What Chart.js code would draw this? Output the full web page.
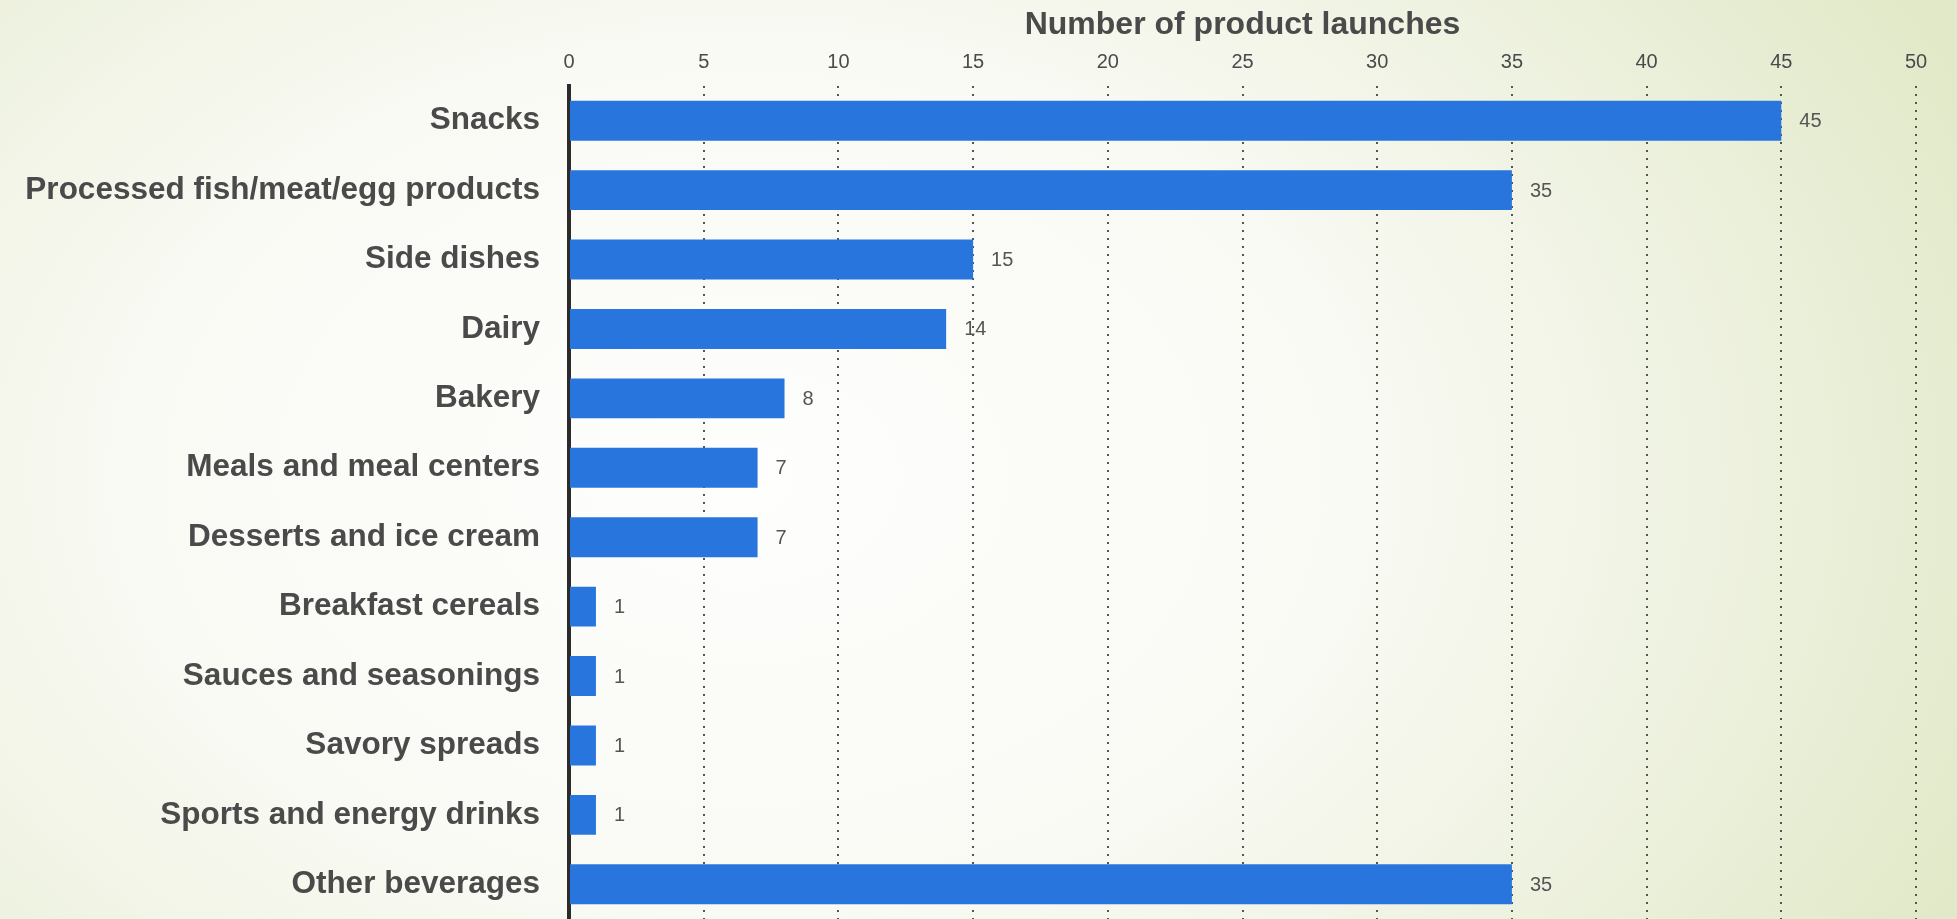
<!DOCTYPE html>
<html>
<head>
<meta charset="utf-8">
<script src="https://cdn.jsdelivr.net/npm/chart.js@4/dist/chart.umd.min.js"></script>
<style>
  html, body { margin: 0; padding: 0; }
  body {
    width: 1957px; height: 919px; overflow: hidden;
    background: radial-gradient(ellipse 1350px 950px at 38% 52%, #fefefd 0%, #f9faf4 45%, #eef2e0 72%, #e1e9c8 100%);
  }
  canvas { display: block; }
</style>
</head>
<body>
<canvas id="chart" width="1957" height="919"></canvas>
<script>
// Chart data
const categories = [
    'Snacks',
    'Processed fish/meat/egg products',
    'Side dishes',
    'Dairy',
    'Bakery',
    'Meals and meal centers',
    'Desserts and ice cream',
    'Breakfast cereals',
    'Sauces and seasonings',
    'Savory spreads',
    'Sports and energy drinks',
    'Other beverages'
];
const launches = [45, 35, 15, 14, 8, 7, 7, 1, 1, 1, 1, 35];
const axisTitle = 'Number of product launches';

const textColor = '#4a4a4a';
const fontFamily = 'Arial, "Liberation Sans", sans-serif';

// draws the number next to the end of each bar
const valueLabels = {
    id: 'valueLabels',
    afterDatasetsDraw(chart) {
        const ctx = chart.ctx;
        const meta = chart.getDatasetMeta(0);
        ctx.save();
        ctx.font = '20px ' + fontFamily;
        ctx.fillStyle = '#555555';
        ctx.textAlign = 'left';
        ctx.textBaseline = 'middle';
        meta.data.forEach((bar, i) => {
            ctx.fillText(String(launches[i]), bar.x + 18, bar.y + 1);
        });
        ctx.restore();
    }
};

const ctx = document.getElementById('chart').getContext('2d');
const chart = new Chart(ctx, {
    type: 'bar',
    data: {
        labels: categories,
        datasets: [{
            label: axisTitle,
            data: launches,
            backgroundColor: '#2876dd',
            borderWidth: 0,
            categoryPercentage: 0.8,
            barPercentage: 0.72
        }]
    },
    options: {
        indexAxis: 'y',
        responsive: false,
        animation: false,
        layout: { padding: { left: 0, right: 41, top: 0, bottom: 0 } },
        plugins: {
            legend: { display: false },
            tooltip: { enabled: false }
        },
        scales: {
            x: {
                position: 'top',
                min: 0,
                max: 50,
                ticks: {
                    stepSize: 5,
                    padding: 12,
                    color: textColor,
                    font: { family: fontFamily, size: 20 }
                },
                grid: {
                    drawTicks: false,
                    lineWidth: 2,
                    color: c => c.tick && c.tick.value === 0 ? 'rgba(0,0,0,0)' : '#555555'
                },
                border: { display: false, dash: [2, 6] },
                title: {
                    display: true,
                    text: axisTitle,
                    color: textColor,
                    padding: { top: 6, bottom: 0 },
                    font: { family: fontFamily, size: 32, weight: 'bold' }
                },
                afterFit: scale => { scale.height = 86; }
            },
            y: {
                ticks: {
                    padding: 29,
                    color: textColor,
                    font: { family: fontFamily, size: 31.5, weight: 'bold' }
                },
                grid: { display: false, drawTicks: false },
                border: { display: true, color: '#2b2b2b', width: 4 },
                afterFit: scale => {
                    scale.width = 569;
                    scale.paddingTop = 0;
                    scale.paddingBottom = 0;
                }
            }
        }
    },
    plugins: [valueLabels]
});
</script>
</body>
</html>
